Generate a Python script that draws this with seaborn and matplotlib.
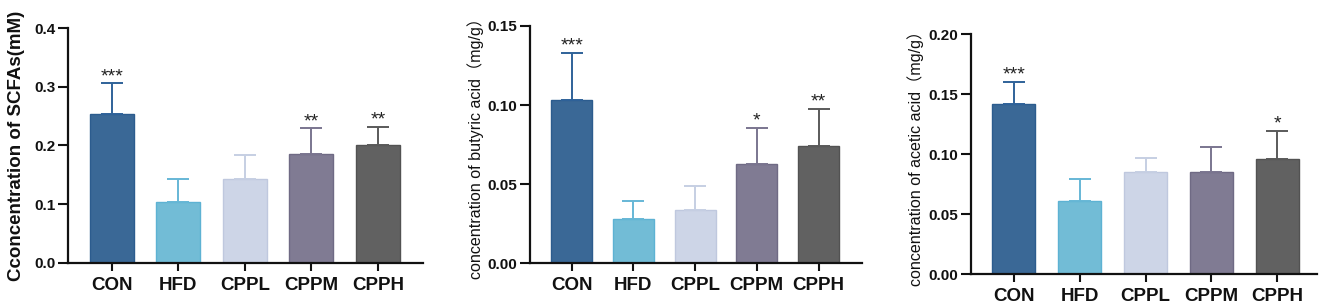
import matplotlib
matplotlib.use("Agg")
import matplotlib.pyplot as plt
import seaborn as sns
import numpy as np
import pandas as pd
from matplotlib.ticker import FormatStrFormatter, MultipleLocator

sns.set_theme(style="ticks")
plt.rcParams['font.family'] = ['Liberation Sans', 'Noto Sans CJK SC', 'DejaVu Sans']

groups = ["CON", "HFD", "CPPL", "CPPM", "CPPH"]

scfa_mean = [0.254, 0.103, 0.1435, 0.186, 0.201]
scfa_err = [0.052, 0.040, 0.041, 0.043, 0.031]
scfa_sig = ["***", "", "", "**", "**"]

butyric_mean = [0.1032, 0.0278, 0.0337, 0.0626, 0.0740]
butyric_err = [0.0299, 0.0114, 0.0153, 0.0229, 0.0237]
butyric_sig = ["***", "", "", "*", "**"]

acetic_mean = [0.1420, 0.0614, 0.0853, 0.0853, 0.0958]
acetic_err = [0.0185, 0.0180, 0.0119, 0.0205, 0.0239]
acetic_sig = ["***", "", "", "", "*"]

fill_colors = ["#3A6896", "#72BCD6", "#CDD5E7", "#807B93", "#616161"]
edge_colors = ["#2C5C8E", "#5DB2D3", "#BFC8DE", "#6F6A84", "#525252"]
err_colors = ["#2F6299", "#66B7D6", "#C6CFE3", "#7A758F", "#5A5A5A"]

panels = [
    dict(mean=scfa_mean, err=scfa_err, sig=scfa_sig,
         label="Cconcentration of SCFAs(mM)", lw="bold", lsize=13.5, lpad=7,
         ylim=0.4, step=0.1, fmt="%.1f",
         pos=[68, 423, 28, 263], xlim=(-0.66, 4.68), width=0.66),
    dict(mean=butyric_mean, err=butyric_err, sig=butyric_sig,
         label="concentration of butyric acid（mg/g）", lw="normal", lsize=11.6, lpad=3,
         ylim=0.15, step=0.05, fmt="%.2f",
         pos=[530, 862, 26, 263.3], xlim=(-0.676, 4.705), width=0.665),
    dict(mean=acetic_mean, err=acetic_err, sig=acetic_sig,
         label="concentration of acetic acid（mg/g）", lw="normal", lsize=11.6, lpad=3,
         ylim=0.20, step=0.05, fmt="%.2f",
         pos=[970.7, 1316.7, 34.3, 274.3], xlim=(-0.656, 4.6), width=0.65),
]

W, H = 1325, 308
fig = plt.figure(figsize=(W / 100, H / 100), dpi=100)

for p in panels:
    l, r, t, b = p["pos"]
    ax = fig.add_axes([l / W, (H - b) / H, (r - l) / W, (b - t) / H])
    df = pd.DataFrame({"group": groups, "value": p["mean"]})
    sns.barplot(data=df, x="group", y="value", hue="group", palette=fill_colors,
                legend=False, width=p["width"], ax=ax, saturation=1)
    for patch, ec in zip(ax.patches, edge_colors):
        patch.set_edgecolor(ec)
        patch.set_linewidth(1.0)
    xs = np.arange(len(groups))
    for i in range(len(groups)):
        ax.errorbar(xs[i], p["mean"][i], yerr=[[0], [p["err"][i]]], fmt="none",
                    ecolor=err_colors[i], elinewidth=1.4, capsize=8, capthick=1.4,
                    zorder=1)
        if p["sig"][i]:
            ax.annotate(p["sig"][i], (xs[i], p["mean"][i] + p["err"][i]),
                        xytext=(0, 1.5), textcoords="offset points",
                        ha="center", va="baseline", fontsize=14, color="#222222")
    ax.set_xlim(*p["xlim"])
    ax.set_ylim(0, p["ylim"])
    ax.yaxis.set_major_locator(MultipleLocator(p["step"]))
    ax.yaxis.set_major_formatter(FormatStrFormatter(p["fmt"]))
    ax.set_xlabel("")
    ax.set_ylabel(p["label"], fontsize=p["lsize"], fontweight=p["lw"],
                  labelpad=p["lpad"], color="#111111")
    sns.despine(ax=ax)
    for s in ["left", "bottom"]:
        ax.spines[s].set_linewidth(1.6)
        ax.spines[s].set_color("#111111")
    ax.tick_params(axis="y", direction="out", length=7, width=1.5, color="#111111",
                   labelsize=11, pad=2)
    ax.tick_params(axis="x", direction="out", length=6, width=1.5, color="#111111",
                   labelsize=13.5, pad=4)
    for lab in ax.get_yticklabels() + ax.get_xticklabels():
        lab.set_fontweight("bold")
        lab.set_color("#111111")

fig.savefig("out.png", dpi=100, facecolor="white")
